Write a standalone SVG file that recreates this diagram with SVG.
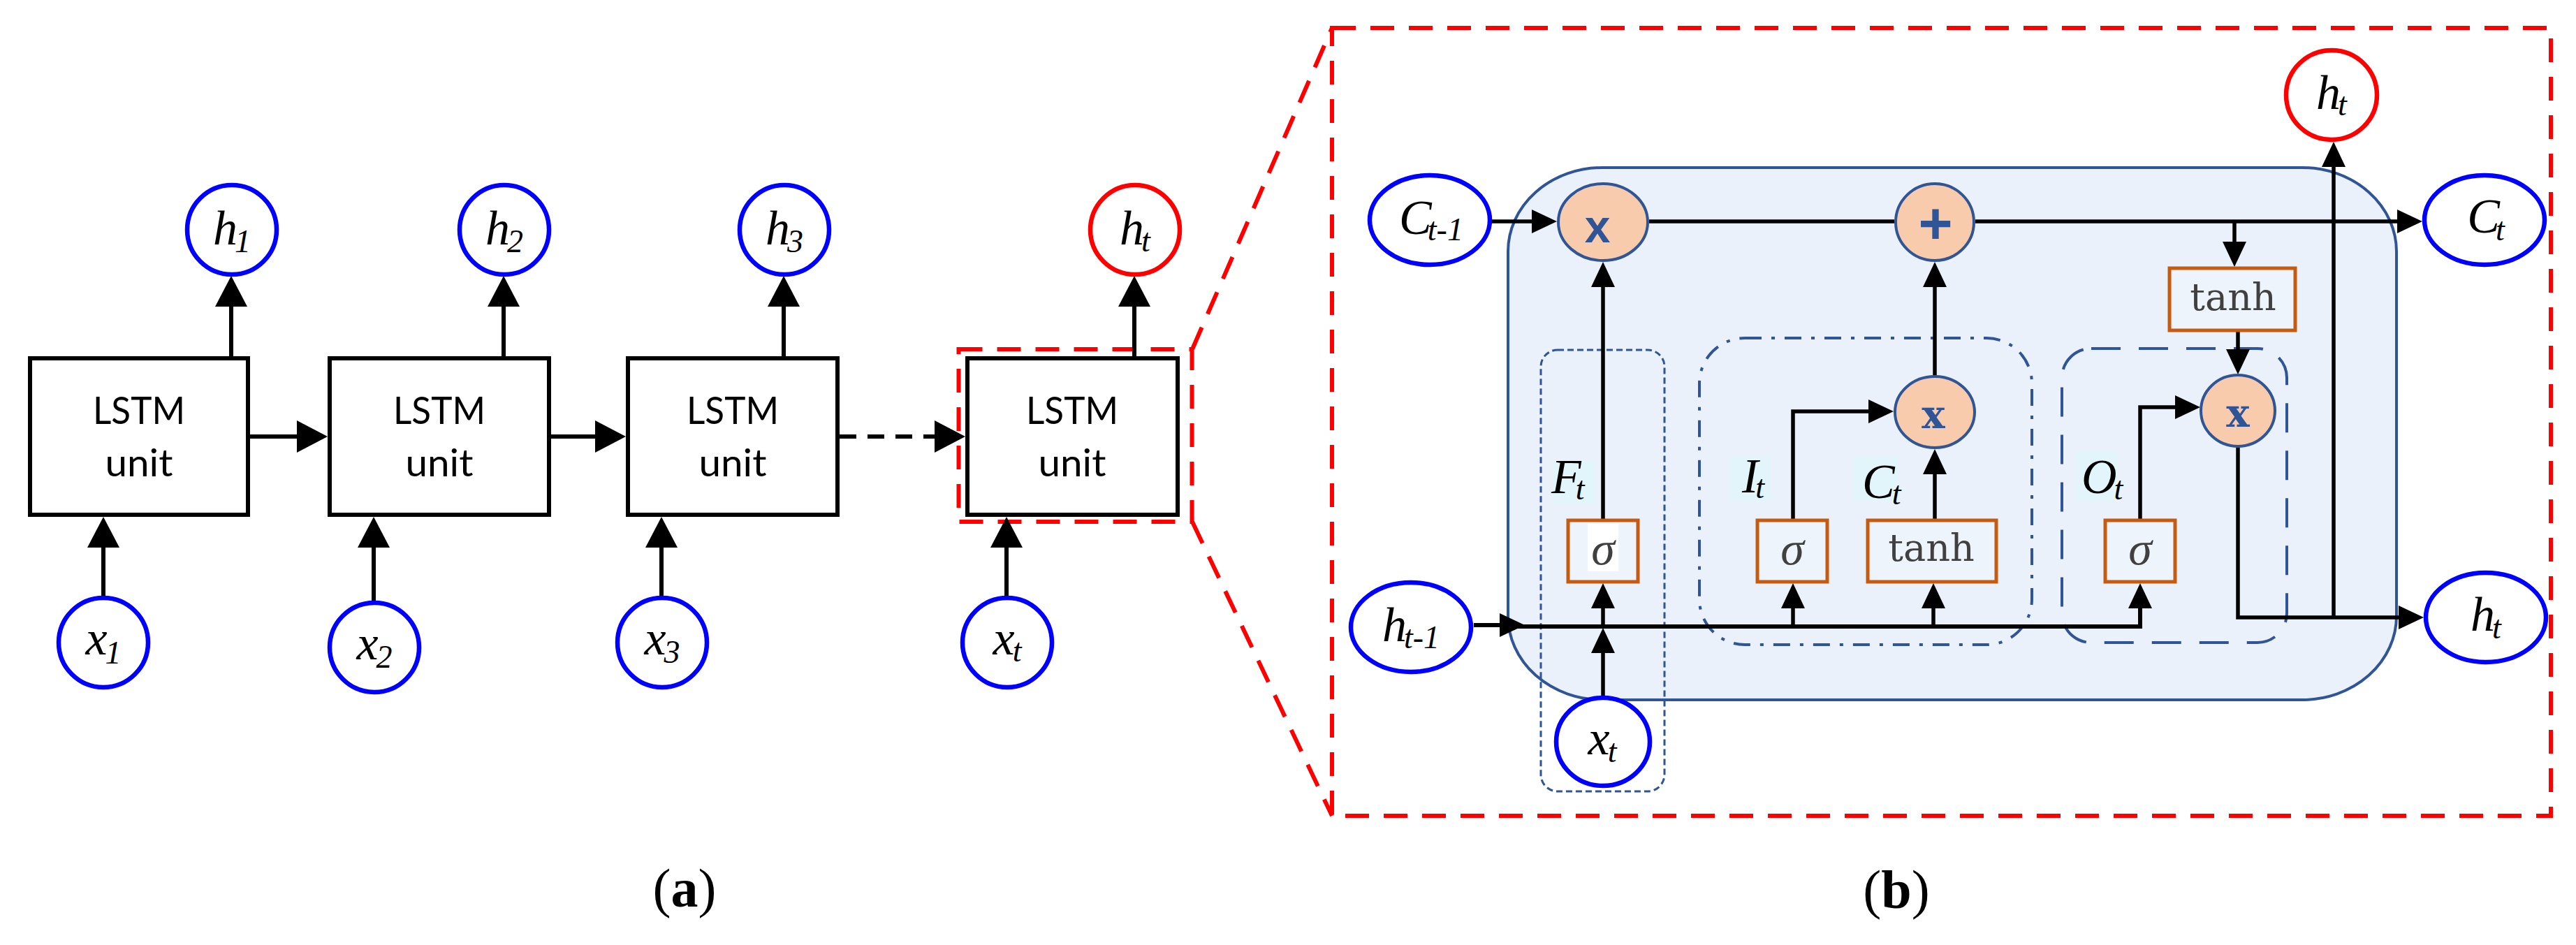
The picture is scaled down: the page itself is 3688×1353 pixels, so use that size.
<svg xmlns="http://www.w3.org/2000/svg" width="3688" height="1353" viewBox="0 0 3688 1353">
<style>
.box{fill:#fff;stroke:#000;stroke-width:6}
.lbl{font-family:Lato,"Liberation Sans",sans-serif;font-size:55px;text-anchor:middle;fill:#000}
.nb{fill:#fff;stroke:#0000FF;stroke-width:6.5}
.nr{fill:#fff;stroke:#FF0000;stroke-width:6.5}
.m{font-family:"Liberation Serif","Times New Roman",serif;font-style:italic;font-size:70px;text-anchor:middle;fill:#000}
.ms{font-family:"Liberation Serif","Times New Roman",serif;font-style:italic;font-size:70px;fill:#000}
.sub{font-size:46px}
.c{fill:none;stroke:#000;stroke-width:6}
.cs{fill:none;stroke:#000;stroke-width:5.5}
.op{fill:#F8CBAD;stroke:#2F5597;stroke-width:4}
.gbox{fill:#EEF4FB;stroke:#C55A11;stroke-width:5}
.gt{font-family:"Liberation Serif",serif;font-style:italic;font-size:68px;fill:#404040;text-anchor:middle}
.tanh{font-family:"DejaVu Serif",serif;font-size:54px;fill:#404040;text-anchor:middle}
.hl{fill:#E2F5FB}
.red{fill:none;stroke:#FF0000;stroke-width:6;stroke-dasharray:34 21}
.gate{fill:none;stroke:#2F5597}
.cap{font-family:"Liberation Serif","Times New Roman",serif;font-size:78px;text-anchor:middle;fill:#000}
</style>
<defs>
<marker id="aL" markerUnits="userSpaceOnUse" markerWidth="44" markerHeight="46" viewBox="0 0 44 46" refX="36" refY="23" orient="auto"><path d="M0,0 L44,23 L0,46 z" fill="#000"/></marker>
<marker id="aS" markerUnits="userSpaceOnUse" markerWidth="36" markerHeight="34" viewBox="0 0 36 34" refX="30" refY="17" orient="auto"><path d="M0,0 L36,17 L0,34 z" fill="#000"/></marker>
</defs>
<rect width="3688" height="1353" fill="#fff"/>

<g id="zoom-frame">
<rect class="red" x="1372.5" y="500" width="334" height="247"/>
<path class="red" d="M1707,500 L1907,40"/>
<path class="red" d="M1707,747 L1907,1168"/>
<rect class="red" x="1907" y="40" width="1745" height="1128"/>
</g>

<g id="cell">
<rect x="2159" y="240" width="1272" height="762" rx="135" ry="120" fill="#EAF1FA" stroke="#2F5597" stroke-width="4"/>
</g>

<g id="gate-groups">
<rect id="forget-gate" class="gate" x="2206" y="501" width="177" height="632" rx="24" stroke-width="3" stroke-dasharray="9 5"/>
<rect id="input-gate" class="gate" x="2433" y="484" width="476" height="439" rx="65" stroke-width="4" stroke-dasharray="24 14 5 14"/>
<rect id="output-gate" class="gate" x="2952" y="499" width="322" height="421" rx="42" stroke-width="4" stroke-dasharray="42 26"/>
</g>

<g id="gate-labels">
<rect class="hl" x="2223" y="659" width="60" height="63"/>
<text class="ms" x="2221" y="706">F<tspan class="sub" dx="-8" dy="9">t</tspan></text>
<rect class="hl" x="2475" y="653" width="61" height="64"/>
<text class="ms" x="2494" y="705">I<tspan class="sub" dx="-4" dy="8">t</tspan></text>
<rect class="hl" x="2653" y="653" width="64" height="64"/>
<text class="ms" x="2666" y="713">C<tspan class="sub" dx="-4" dy="9">t</tspan></text>
<rect class="hl" x="2971" y="645" width="60" height="72"/>
<text class="ms" x="2980" y="706">O<tspan class="sub" dx="-4" dy="9">t</tspan></text>
</g>

<g id="connectors">
<path class="c" d="M331,510 V403" marker-end="url(#aL)"/>
<path class="c" d="M721,510 V403" marker-end="url(#aL)"/>
<path class="c" d="M1122,510 V403" marker-end="url(#aL)"/>
<path class="c" d="M1624,510 V403" marker-end="url(#aL)"/>
<path class="c" d="M148,853 V748" marker-end="url(#aL)"/>
<path class="c" d="M535,861 V748" marker-end="url(#aL)"/>
<path class="c" d="M947,853 V748" marker-end="url(#aL)"/>
<path class="c" d="M1441,854 V748" marker-end="url(#aL)"/>
<path class="c" d="M358,625 H461" marker-end="url(#aL)"/>
<path class="c" d="M789,625 H888" marker-end="url(#aL)"/>
<path class="c" d="M1202,625 H1374" stroke-dasharray="24 16" marker-end="url(#aL)"/>
<path class="cs" d="M2136,317 H2223" marker-end="url(#aS)"/>
<path class="cs" d="M2361,317 H2712"/>
<path class="cs" d="M2828,317 H3462" marker-end="url(#aS)"/>
<path class="cs" d="M3199,317 V376" marker-end="url(#aS)"/>
<path class="cs" d="M3204,475 V530" marker-end="url(#aS)"/>
<path class="cs" d="M3204,640 V884 H3464" marker-end="url(#aS)"/>
<path class="cs" d="M3341,884 V209" marker-end="url(#aS)"/>
<path class="c" d="M2110,895 H2177" marker-end="url(#aS)"/>
<path class="c" d="M2160,897 H3064 V841" marker-end="url(#aS)"/>
<path class="cs" d="M2295,996 V905" marker-end="url(#aS)"/>
<path class="cs" d="M2295,897 V841" marker-end="url(#aS)"/>
<path class="cs" d="M2567,897 V841" marker-end="url(#aS)"/>
<path class="cs" d="M2768,897 V841" marker-end="url(#aS)"/>
<path class="cs" d="M2295,743 V381" marker-end="url(#aS)"/>
<path class="cs" d="M2567,743 V589 H2705" marker-end="url(#aS)"/>
<path class="cs" d="M2770,743 V649" stroke-width="7" marker-end="url(#aS)"/>
<path class="cs" d="M2770,538 V381" marker-end="url(#aS)"/>
<path class="cs" d="M3064,743 V583 H3144" marker-end="url(#aS)"/>
</g>

<g id="lstm1"><rect class="box" x="43" y="513" width="312" height="224"/><text class="lbl" x="199" y="607" textLength="132" lengthAdjust="spacingAndGlyphs">LSTM</text><text class="lbl" x="199" y="682" textLength="97" lengthAdjust="spacingAndGlyphs">unit</text></g>
<g id="lstm2"><rect class="box" x="472" y="513" width="314" height="224"/><text class="lbl" x="629" y="607" textLength="132" lengthAdjust="spacingAndGlyphs">LSTM</text><text class="lbl" x="629" y="682" textLength="97" lengthAdjust="spacingAndGlyphs">unit</text></g>
<g id="lstm3"><rect class="box" x="899" y="513" width="300" height="224"/><text class="lbl" x="1049" y="607" textLength="132" lengthAdjust="spacingAndGlyphs">LSTM</text><text class="lbl" x="1049" y="682" textLength="97" lengthAdjust="spacingAndGlyphs">unit</text></g>
<g id="lstm4"><rect class="box" x="1385" y="513" width="301" height="224"/><text class="lbl" x="1535" y="607" textLength="132" lengthAdjust="spacingAndGlyphs">LSTM</text><text class="lbl" x="1535" y="682" textLength="97" lengthAdjust="spacingAndGlyphs">unit</text></g>

<g id="h1"><circle class="nb" cx="332" cy="329" r="64"/><text class="m" x="332" y="350">h<tspan class="sub" dx="-4" dy="11">1</tspan></text></g>
<g id="h2"><circle class="nb" cx="722" cy="329" r="64"/><text class="m" x="722" y="350">h<tspan class="sub" dx="-4" dy="11">2</tspan></text></g>
<g id="h3"><circle class="nb" cx="1123" cy="329" r="64"/><text class="m" x="1123" y="350">h<tspan class="sub" dx="-4" dy="11">3</tspan></text></g>
<g id="ht-a"><circle class="nr" cx="1625" cy="329" r="64"/><text class="m" x="1625" y="350">h<tspan class="sub" dx="-4" dy="10">t</tspan></text></g>
<g id="x1"><circle class="nb" cx="148" cy="920" r="64"/><text class="m" x="148" y="937">x<tspan class="sub" dx="-3" dy="13">1</tspan></text></g>
<g id="x2"><circle class="nb" cx="536" cy="927" r="64"/><text class="m" x="536" y="944">x<tspan class="sub" dx="-3" dy="12">2</tspan></text></g>
<g id="x3"><circle class="nb" cx="948" cy="920" r="64"/><text class="m" x="948" y="937">x<tspan class="sub" dx="-3" dy="12">3</tspan></text></g>
<g id="xt-a"><circle class="nb" cx="1442" cy="920" r="64"/><text class="m" x="1442" y="937">x<tspan class="sub" dx="-3" dy="10">t</tspan></text></g>

<g id="c-prev"><ellipse class="nb" cx="2047" cy="315" rx="86" ry="64" stroke-width="7"/><text class="m" x="2049" y="335" font-size="74">C<tspan class="sub" dx="-6" dy="9">t-1</tspan></text></g>
<g id="h-prev"><ellipse class="nb" cx="2020" cy="898" rx="86" ry="64" stroke-width="7"/><text class="m" x="2020" y="918">h<tspan class="sub" dx="-4" dy="10">t-1</tspan></text></g>
<g id="xt-b"><ellipse class="nb" cx="2295" cy="1062" rx="67" ry="63" stroke-width="7"/><text class="m" x="2294" y="1080">x<tspan class="sub" dx="-3" dy="11">t</tspan></text></g>
<g id="c-t"><ellipse class="nb" cx="3557" cy="315" rx="86" ry="64" stroke-width="7"/><text class="m" x="3559" y="333" font-size="74">C<tspan class="sub" dx="-6" dy="11">t</tspan></text></g>
<g id="ht-b-out"><ellipse class="nr" cx="3338" cy="136" rx="65" ry="64" stroke-width="7"/><text class="m" x="3338" y="156">h<tspan class="sub" dx="-4" dy="9">t</tspan></text></g>
<g id="ht-b"><ellipse class="nb" cx="3559" cy="884" rx="86" ry="64" stroke-width="7"/><text class="m" x="3559" y="903">h<tspan class="sub" dx="-4" dy="11">t</tspan></text></g>

<g id="mul-forget"><ellipse class="op" cx="2295" cy="318" rx="64" ry="55"/><text x="2287" y="347" font-family="'Liberation Sans',Arial,sans-serif" font-weight="bold" font-size="66" fill="#2F5597" text-anchor="middle">x</text></g>
<g id="add"><ellipse class="op" cx="2770" cy="318" rx="56" ry="55"/><text x="2771" y="349" font-family="'Liberation Sans',Arial,sans-serif" font-weight="bold" font-size="84" fill="#2F5597" text-anchor="middle">+</text></g>
<g id="mul-input"><ellipse class="op" cx="2770" cy="590" rx="57" ry="51"/><text x="2768" y="613" font-family="'DejaVu Serif',serif" font-weight="bold" font-size="56" fill="#2F5597" text-anchor="middle">x</text></g>
<g id="mul-output"><ellipse class="op" cx="3204" cy="588" rx="53" ry="51"/><text x="3204" y="611" font-family="'DejaVu Serif',serif" font-weight="bold" font-size="56" fill="#2F5597" text-anchor="middle">x</text></g>

<g id="sigma-forget"><rect class="gbox" x="2245" y="745" width="100" height="88"/><rect x="2273" y="750" width="44" height="68" fill="#fff"/><text class="gt" x="2295" y="808">σ</text></g>
<g id="sigma-input"><rect class="gbox" x="2516" y="745" width="100" height="88"/><text class="gt" x="2566" y="808">σ</text></g>
<g id="tanh-cand"><rect class="gbox" x="2674" y="745" width="184" height="88"/><text class="tanh" x="2765" y="803">tanh</text></g>
<g id="sigma-output"><rect class="gbox" x="3014" y="745" width="100" height="88"/><text class="gt" x="3064" y="808">σ</text></g>
<g id="tanh-out"><rect class="gbox" x="3106" y="384" width="180" height="89"/><text class="tanh" x="3197" y="444">tanh</text></g>

<g id="captions">
<text class="cap" x="980" y="1298">(<tspan font-weight="bold">a</tspan>)</text>
<text class="cap" x="2715" y="1300">(<tspan font-weight="bold">b</tspan>)</text>
</g>
</svg>
